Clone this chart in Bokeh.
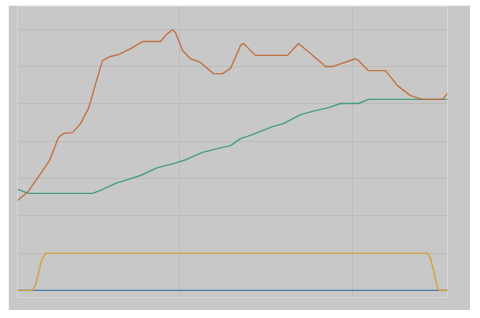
from bokeh.plotting import figure
from bokeh.models import Range1d, FixedTicker
from bokeh.embed import file_html
from bokeh.resources import INLINE

# Orange series
orange_x = [0, 1.0, 2.1, 3.2, 4.1, 4.6, 5.5, 6.3, 7.1, 8.0, 8.5, 9.3, 10.1, 11.3, 12.5, 14.3,
            14.9, 15.5, 15.8, 16.5, 17.3, 18.3, 19.6, 20.5, 21.3, 22.3, 22.6, 23.8, 27.0, 28.1,
            29.3, 30.8, 31.5, 33.8, 34.1, 35.1, 36.8, 38.0, 39.3, 40.5, 42.5, 43.0]
orange_y = [2.41, 2.63, 3.05, 3.48, 4.10, 4.21, 4.23, 4.47, 4.88, 5.71, 6.16, 6.27, 6.32, 6.48,
            6.67, 6.67, 6.86, 6.99, 6.91, 6.43, 6.21, 6.11, 5.81, 5.81, 5.95, 6.56, 6.62, 6.30,
            6.30, 6.62, 6.35, 6.00, 6.00, 6.21, 6.16, 5.89, 5.89, 5.49, 5.22, 5.12, 5.12, 5.28]

# Green series
green_x = [0, 1.1, 7.5, 8.3, 9.8, 11.0, 12.3, 14.0, 15.6, 16.9, 18.5, 20.0, 21.3, 22.3, 23.0,
           23.8, 25.5, 26.6, 28.3, 29.5, 31.1, 32.3, 34.1, 35.1, 43.0]
green_y = [2.71, 2.60, 2.60, 2.68, 2.87, 2.97, 3.08, 3.29, 3.40, 3.51, 3.70, 3.80, 3.88, 4.07,
           4.13, 4.21, 4.39, 4.47, 4.71, 4.80, 4.90, 5.01, 5.01, 5.12, 5.12]

# Yellow series
yellow_x = [0, 1.5, 1.8, 2.1, 2.4, 2.7, 2.9, 41.0, 41.3, 41.6, 41.9, 42.1, 43.0]
yellow_y = [0, 0, 0.13, 0.48, 0.80, 0.96, 1.0, 1.0, 0.86, 0.54, 0.19, 0, 0]

# Blue series
blue_x = [0, 43.0]
blue_y = [0, 0]

x_ticks = [16.2, 33.5]
y_ticks = [0, 1, 2, 3, 4, 5, 6, 7]

bg = "#c8c8c8"
p = figure(width=462, height=305, output_backend="svg", toolbar_location=None,
           x_range=Range1d(0, 43), y_range=Range1d(-0.19, 7.61),
           min_border_left=9, min_border_right=23, min_border_top=1, min_border_bottom=13,
           background_fill_color=bg, border_fill_color=bg, outline_line_color=None)
p.margin = (5, 0, 0, 8)
p.xaxis.visible = False
p.yaxis.visible = False
p.xaxis.ticker = FixedTicker(ticks=x_ticks)
p.yaxis.ticker = FixedTicker(ticks=y_ticks)
p.xgrid.ticker = FixedTicker(ticks=x_ticks)
p.ygrid.ticker = FixedTicker(ticks=y_ticks)
p.grid.grid_line_color = "#b0b6b3"
p.grid.grid_line_alpha = 0.6

p.line(blue_x, blue_y, line_color="#4a7ba6", line_width=1.4)
p.line(yellow_x, yellow_y, line_color="#d4a02a", line_alpha=0.9, line_width=1.4)
p.line(green_x, green_y, line_color="#3a9a78", line_alpha=0.9, line_width=1.4)
p.line(orange_x, orange_y, line_color="#bf6a34", line_alpha=0.9, line_width=1.4)

open("out.html", "w").write(file_html(p, INLINE))
